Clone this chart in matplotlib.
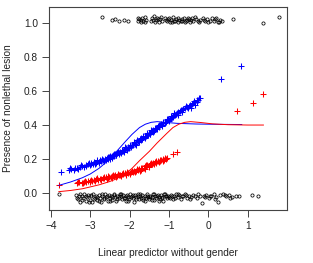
import matplotlib
matplotlib.use("Agg")
import matplotlib.pyplot as plt

plt.rcParams['font.family'] = ['Liberation Sans', 'DejaVu Sans']

# ---- data ----
blue_x = [-3.75, -3.55, -3.48, -3.42, -3.33, -3.27, -3.20, -3.15, -3.10, -3.06, -3.02, -2.97, -2.93, -2.90,
          -2.86, -2.82, -2.79, -2.75, -2.72, -2.68, -2.65, -2.62, -2.58, -2.55, -2.52, -2.49, -2.46, -2.43,
          -2.40, -2.37, -2.34, -2.31, -2.28, -2.25, -2.22, -2.19, -2.16, -2.13, -2.10, -2.07, -2.04, -2.01,
          -1.98, -1.95, -1.92, -1.89, -1.86, -1.83, -1.80, -1.77, -1.74, -1.71, -1.68, -1.65, -1.62, -1.59,
          -1.56, -1.53, -1.50, -1.47, -1.44, -1.41, -1.38, -1.35, -1.32, -1.29, -1.26, -1.23, -1.20, -1.17,
          -1.14, -1.11, -1.08, -1.05, -1.02, -0.99, -0.96, -0.93, -0.90, -0.87, -0.84, -0.80, -0.76, -0.72,
          -0.68, -0.64, -0.60, -0.55, -0.50, -0.45, -0.42, -0.38, -0.33, -0.30, -0.26, -0.21, 0.33, 0.83,
          -3.52, -3.38, -3.30, -3.24, -3.12, -3.04, -2.99, -2.88, -2.84, -2.77, -2.70, -2.60, -2.56, -2.50,
          -2.45, -2.41, -2.35, -2.30, -2.26, -2.20, -2.15, -2.11, -2.05, -2.00, -1.96, -1.90, -1.85, -1.81,
          -1.76, -1.72, -1.66, -1.60, -1.55, -1.49, -1.45, -1.40, -1.36, -1.30, -1.25, -1.19, -1.15, -1.10,
          -1.06, -1.00, -0.95, -0.91, -0.86, -0.82, -0.78, -0.70, -0.66, -0.58, -0.52, -0.47, -0.36, -0.28,
          -0.24]
blue_y = [0.122, 0.135, 0.142, 0.138, 0.150, 0.155, 0.160, 0.152, 0.165, 0.170, 0.163, 0.175, 0.170, 0.180,
          0.178, 0.188, 0.182, 0.192, 0.186, 0.195, 0.190, 0.200, 0.205, 0.198, 0.210, 0.215, 0.208, 0.222,
          0.218, 0.230, 0.226, 0.238, 0.232, 0.243, 0.238, 0.250, 0.246, 0.258, 0.262, 0.255, 0.270, 0.266,
          0.278, 0.285, 0.280, 0.292, 0.288, 0.300, 0.305, 0.298, 0.315, 0.322, 0.318, 0.330, 0.326, 0.338,
          0.345, 0.340, 0.355, 0.350, 0.362, 0.370, 0.366, 0.378, 0.385, 0.392, 0.388, 0.400, 0.405, 0.398,
          0.412, 0.420, 0.416, 0.428, 0.435, 0.430, 0.442, 0.450, 0.455, 0.462, 0.458, 0.468, 0.475, 0.482,
          0.478, 0.492, 0.500, 0.506, 0.512, 0.498, 0.525, 0.532, 0.520, 0.545, 0.548, 0.558, 0.670, 0.750,
          0.145, 0.148, 0.142, 0.163, 0.158, 0.176, 0.168, 0.172, 0.192, 0.176, 0.198, 0.192, 0.212, 0.202,
          0.218, 0.228, 0.222, 0.244, 0.236, 0.256, 0.240, 0.268, 0.262, 0.282, 0.272, 0.298, 0.280, 0.312,
          0.306, 0.310, 0.338, 0.332, 0.352, 0.345, 0.372, 0.360, 0.385, 0.378, 0.402, 0.395, 0.420, 0.410,
          0.438, 0.424, 0.452, 0.445, 0.470, 0.465, 0.462, 0.490, 0.486, 0.510, 0.502, 0.520, 0.540, 0.535,
          0.558]

red_x = [-3.80, -3.34, -3.28, -3.22, -3.16, -3.10, -3.05, -3.00, -2.95, -2.90, -2.85, -2.80, -2.76, -2.72,
         -2.68, -2.64, -2.60, -2.56, -2.52, -2.48, -2.44, -2.40, -2.36, -2.32, -2.28, -2.24, -2.20, -2.16,
         -2.12, -2.08, -2.04, -2.00, -1.96, -1.92, -1.88, -1.84, -1.80, -1.76, -1.72, -1.68, -1.64, -1.60,
         -1.56, -1.52, -1.48, -1.44, -1.40, -1.36, -1.32, -1.28, -1.24, -1.20, -1.16, -1.12, -1.08, -1.04,
         -0.90, -0.80, 0.73, 1.14, 1.39,
         -3.31, -3.19, -3.13, -3.02, -2.97, -2.87, -2.82, -2.74, -2.66, -2.58, -2.54, -2.46, -2.42, -2.34,
         -2.30, -2.22, -2.18, -2.10, -2.06, -1.98, -1.94, -1.86, -1.82, -1.74, -1.70, -1.62, -1.58, -1.50,
         -1.46, -1.38, -1.34, -1.26, -1.22, -1.14, -1.10]
red_y = [0.047, 0.058, 0.062, 0.060, 0.066, 0.064, 0.070, 0.073, 0.070, 0.077, 0.080, 0.078, 0.085, 0.082,
         0.088, 0.086, 0.092, 0.090, 0.096, 0.094, 0.100, 0.098, 0.104, 0.102, 0.108, 0.106, 0.112, 0.110,
         0.116, 0.114, 0.120, 0.118, 0.126, 0.124, 0.130, 0.128, 0.137, 0.142, 0.138, 0.150, 0.147, 0.158,
         0.165, 0.160, 0.172, 0.168, 0.178, 0.182, 0.176, 0.190, 0.186, 0.194, 0.198, 0.192, 0.202, 0.206,
         0.232, 0.240, 0.480, 0.530, 0.580,
         0.066, 0.056, 0.070, 0.066, 0.078, 0.072, 0.086, 0.078, 0.094, 0.085, 0.100, 0.090, 0.106, 0.096,
         0.112, 0.102, 0.118, 0.108, 0.124, 0.114, 0.132, 0.122, 0.140, 0.132, 0.148, 0.142, 0.162, 0.155,
         0.176, 0.172, 0.188, 0.182, 0.196, 0.190, 0.208]

zero_x = [-3.80, -3.36, -3.32, -3.29, -3.25, -3.22, -3.18, -3.15, -3.12, -3.08, -3.05, -3.02, -2.98, -2.95,
          -2.92, -2.88, -2.85, -2.82, -2.78, -2.75, -2.72, -2.69, -2.66, -2.62, -2.59, -2.56, -2.53, -2.50,
          -2.47, -2.44, -2.40, -2.37, -2.34, -2.31, -2.28, -2.25, -2.22, -2.19, -2.16, -2.13, -2.10, -2.07,
          -2.04, -2.01, -1.98, -1.95, -1.92, -1.89, -1.86, -1.83, -1.80, -1.77, -1.74, -1.71, -1.68, -1.65,
          -1.62, -1.59, -1.56, -1.53, -1.50, -1.47, -1.44, -1.41, -1.38, -1.35, -1.32, -1.29, -1.26, -1.23,
          -1.20, -1.17, -1.14, -1.11, -1.08, -1.05, -1.02, -0.98, -0.94, -0.90, -0.86, -0.82, -0.78, -0.74,
          -0.70, -0.65, -0.60, -0.55, -0.50, -0.44, -0.38, -0.30, -0.22, -0.17, -0.12, -0.05, 0.02, 0.08,
          0.14, 0.20, 0.25, 0.30, 0.38, 0.45, 0.52, 0.60, 0.70, 0.78, 1.11, 1.27,
          -3.34, -3.27, -3.20, -3.10, -3.03, -2.97, -2.90, -2.83, -2.77, -2.70, -2.64, -2.57, -2.51, -2.45,
          -2.39, -2.33, -2.27, -2.21, -2.15, -2.09, -2.03, -1.97, -1.91, -1.85, -1.79, -1.73, -1.67, -1.61,
          -1.55, -1.49, -1.43, -1.37, -1.31, -1.25, -1.19, -1.13, -1.07, -1.00, -0.92, -0.84, -0.76, -0.68,
          -0.58, -0.47, -0.35, -0.26, -0.08, 0.05, 0.17, 0.42, 0.56]
zero_y = [-0.005, -0.010, -0.035, -0.020, -0.050, -0.015, -0.030, -0.005, -0.045, -0.025, -0.012, -0.040,
          -0.020, -0.055, -0.008, -0.030, -0.018, -0.042, -0.010, -0.028, -0.050, -0.015, -0.035, -0.005,
          -0.022, -0.045, -0.012, -0.030, -0.018, -0.040, -0.008, -0.025, -0.048, -0.015, -0.032, -0.005,
          -0.020, -0.038, -0.012, -0.028, -0.045, -0.010, -0.022, -0.035, -0.008, -0.018, -0.030, -0.050,
          -0.012, -0.025, -0.005, -0.038, -0.018, -0.028, -0.010, -0.042, -0.020, -0.032, -0.008, -0.022,
          -0.036, -0.015, -0.026, -0.005, -0.040, -0.018, -0.030, -0.010, -0.022, -0.035, -0.012, -0.025,
          -0.045, -0.008, -0.020, -0.032, -0.015, -0.028, -0.010, -0.038, -0.018, -0.005, -0.025, -0.012,
          -0.035, -0.020, -0.008, -0.030, -0.015, -0.022, -0.010, -0.028, -0.015, -0.060, -0.020, -0.010,
          -0.030, -0.015, -0.005, -0.025, -0.050, -0.012, -0.005, -0.020, -0.010, -0.022, -0.015, -0.018,
          -0.012, -0.015,
          -0.028, -0.008, -0.040, -0.018, -0.052, -0.010, -0.035, -0.022, -0.045, -0.005, -0.030, -0.015,
          -0.048, -0.025, -0.010, -0.038, -0.020, -0.005, -0.030, -0.015, -0.045, -0.025, -0.010, -0.035,
          -0.020, -0.005, -0.030, -0.048, -0.015, -0.025, -0.040, -0.008, -0.020, -0.045, -0.030, -0.005,
          -0.018, -0.025, -0.015, -0.030, -0.008, -0.020, -0.012, -0.035, -0.018, -0.008, -0.025, -0.015,
          -0.035, -0.012, -0.028]

one_x = [-2.70, -2.45, -2.36, -2.28, -2.15, -2.05, -1.80, -1.76, -1.72, -1.68, -1.65, -1.62, -1.58, -1.45,
         -1.42, -1.38, -1.34, -1.30, -1.26, -1.22, -1.18, -1.10, -1.06, -1.02, -0.98, -0.94, -0.90, -0.86,
         -0.82, -0.78, -0.74, -0.70, -0.66, -0.62, -0.58, -0.54, -0.50, -0.46, -0.42, -0.38, -0.32, -0.26,
         -0.20, -0.14, -0.09, -0.04, 0.00, 0.10, 0.14, 0.18, 0.24, 0.30, 0.35, 0.62, 1.39, 1.79,
         -1.78, -1.70, -1.60, -1.40, -1.36, -1.28, -1.20, -1.08, -1.00, -0.92, -0.84, -0.76, -0.68, -0.60,
         -0.52, -0.44, -0.35, -0.23, -0.12, 0.04, 0.20, 0.28]
one_y = [1.035, 1.020, 1.025, 1.015, 1.020, 1.012, 1.010, 1.022, 1.005, 1.030, 1.015, 1.035, 1.020, 1.012,
         1.028, 1.040, 1.018, 1.032, 1.008, 1.025, 1.015, 1.030, 1.010, 1.022, 1.005, 1.018, 1.035, 1.012,
         1.025, 1.008, 1.020, 1.015, 1.012, 1.028, 1.010, 1.018, 1.022, 1.008, 1.030, 1.015, 1.025, 1.010,
         1.020, 1.032, 1.012, 1.025, 1.008, 1.030, 1.015, 1.022, 1.008, 1.018, 1.010, 1.025, 1.000, 1.035,
         1.030, 1.018, 1.008, 1.020, 1.005, 1.022, 1.035, 1.018, 1.030, 1.008, 1.015, 1.032, 1.022, 1.005,
         1.030, 1.018, 1.035, 1.005, 1.020, 1.015, 1.030, 1.005]

blue_line_x = [-3.80, -3.50, -3.20, -3.00, -2.78, -2.50, -2.35, -2.10, -1.94, -1.75, -1.60, -1.45, -1.30,
               -1.10, -0.80, -0.30, 0.30, 0.85]
blue_line_y = [0.045, 0.065, 0.090, 0.112, 0.145, 0.200, 0.240, 0.305, 0.345, 0.385, 0.405, 0.416, 0.420,
               0.416, 0.410, 0.406, 0.404, 0.403]
red_line_x = [-3.80, -3.50, -3.20, -2.78, -2.50, -2.35, -2.10, -1.94, -1.75, -1.50, -1.30, -1.06, -0.90,
              -0.75, -0.60, -0.45, -0.20, 0.10, 0.50, 1.00, 1.40]
red_line_y = [0.008, 0.015, 0.025, 0.048, 0.068, 0.082, 0.115, 0.145, 0.190, 0.245, 0.295, 0.350, 0.385,
              0.405, 0.416, 0.420, 0.415, 0.407, 0.402, 0.400, 0.400]

x_ticks = [-4, -3, -2, -1, 0, 1]
y_ticks = [0.0, 0.2, 0.4, 0.6, 0.8, 1.0]

# ---- figure ----
fig = plt.figure(figsize=(3.13, 2.63), dpi=100)
ax = fig.add_axes([0.1565, 0.2015, 0.7605, 0.7715])

circ = dict(linestyle='none', marker='o', markersize=2.3, markerfacecolor='none',
            markeredgecolor='black', markeredgewidth=0.55)
ax.plot(zero_x, zero_y, **circ)
ax.plot(one_x, one_y, **circ)

plus = dict(linestyle='none', marker='+', markersize=3.7, markeredgewidth=0.75)
ax.plot(blue_x, blue_y, color='#0000FF', **plus)
ax.plot(red_x, red_y, color='#FF0000', **plus)

ax.plot(blue_line_x, blue_line_y, color='#0000FF', lw=0.7)
ax.plot(red_line_x, red_line_y, color='#FF0000', lw=0.7)

ax.set_xlim(-4.05, 2.0)
ax.set_ylim(-0.1, 1.094)
ax.set_xticks(x_ticks)
ax.set_xticklabels([str(t).replace('-', '\u2212') for t in x_ticks])
ax.set_yticks(y_ticks)
ax.set_yticklabels(['%.1f' % t for t in y_ticks])

for s in ax.spines.values():
    s.set_color('#444444')
    s.set_linewidth(0.8)
ax.tick_params(direction='out', length=5, width=0.7, color='#444444', labelsize=7.3,
               labelcolor='#222222', pad=3)

ax.set_xlabel('Linear predictor without gender', fontsize=7.3, color='#222222', labelpad=12)
ax.set_ylabel('Presence of nonlethal lesion', fontsize=7.3, color='#222222', labelpad=8)

fig.savefig('out.png', dpi=100)
